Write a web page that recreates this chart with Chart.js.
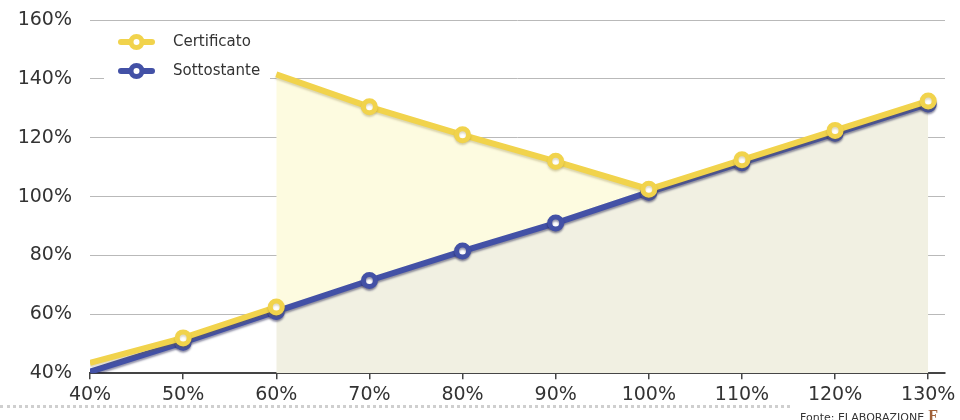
<!DOCTYPE html>
<html>
<head>
<meta charset="utf-8">
<script src="https://cdn.jsdelivr.net/npm/chart.js@4.4.1/dist/chart.umd.min.js"></script>
<style>
  html, body { margin: 0; padding: 0; background: #fff; overflow: hidden; }
  #wrap { position: relative; width: 960px; height: 420px; }
  #grafico { position: absolute; left: 0; top: 0; }
  .puntini { position: absolute; left: 0; top: 405px; width: 790px; border-top: 3px dotted #cfcfcf; }
  .fonte { position: absolute; left: 800px; top: 407px; font: 11px "DejaVu Sans", sans-serif; color: #333; white-space: nowrap; }
  .fonte b { font: bold 16px "Liberation Serif", serif; color: #a0623a; margin-left: 4px; }
</style>
</head>
<body>
<div id="wrap">
  <canvas id="grafico" width="960" height="420"></canvas>
  <div class="puntini"></div>
  <div class="fonte">Fonte: ELABORAZIONE<b>F</b></div>
</div>
<script>
// Dati (livello del sottostante in % del valore iniziale)
const livelli = [40, 50, 60, 70, 80, 90, 100, 110, 120, 130];
const sottostante = [40.5, 50.5, 61, 71.5, 81.5, 91, 101.5, 111.5, 121.5, 131.5];
// Certificato: tratto sotto la barriera (40-60%) e tratto sopra (60-130%)
const livelliSotto = [40, 50, 60];
const certificatoSotto = [43.5, 52, 62.5];
const livelliSopra = [60, 70, 80, 90, 100, 110, 120, 130];
const certificatoSopra = [141.5, 130.5, 121, 112, 102.5, 112.5, 122.5, 132.5];
const tickX = [40, 50, 60, 70, 80, 90, 100, 110, 120, 130];
const tickY = [40, 60, 80, 100, 120, 140, 160];

const GIALLO = '#f1d34c';
const BLU = '#4351a6';
const FONT = '"DejaVu Sans", sans-serif';

// punti del certificato, con un buco (null) per spezzare la linea a 60%
const datiCert = livelliSotto.map((x, i) => ({ x: x, y: certificatoSotto[i] }))
  .concat([{ x: livelliSopra[0], y: null }])
  .concat(livelliSopra.map((x, i) => ({ x: x, y: certificatoSopra[i] })));
const raggiCert = datiCert.map((p, i) => (i === 0 || i === livelliSotto.length + 1) ? 0 : 6);

const datiSott = livelli.map((x, i) => ({ x: x, y: sottostante[i] }));
const raggiSott = livelli.map((x, i) => i === 0 ? 0 : 6);

const inizioArea = livelli.indexOf(livelliSopra[0]);
const areaSott = livelli.slice(inizioArea).map((x, i) => ({ x: x, y: sottostante[inizioArea + i] }));
const areaCert = livelliSopra.map((x, i) => ({ x: x, y: certificatoSopra[i] }));

// ombra leggera sotto le linee
const ombraLinee = {
  id: 'ombraLinee',
  beforeDatasetDraw(chart, args) {
    if (args.index > 1) return;
    const ctx = chart.ctx;
    ctx.save();
    ctx.shadowColor = args.index === 1 ? 'rgba(20,20,70,0.45)' : 'rgba(120,100,20,0.25)';
    ctx.shadowOffsetY = 2;
    ctx.shadowBlur = 2;
  },
  afterDatasetDraw(chart, args) {
    if (args.index > 1) return;
    chart.ctx.restore();
  }
};

// legenda dentro l'area del grafico, in alto a sinistra
const legendaInterna = {
  id: 'legendaInterna',
  afterDraw(chart) {
    const ctx = chart.ctx;
    const voci = [
      { testo: 'Certificato', colore: GIALLO, y: 42 },
      { testo: 'Sottostante', colore: BLU, y: 71 }
    ];
    ctx.save();
    ctx.fillStyle = '#fff';
    ctx.fillRect(104, 28, 166, 58);
    voci.forEach(v => {
      ctx.strokeStyle = v.colore;
      ctx.lineWidth = 6;
      ctx.lineCap = 'round';
      ctx.beginPath();
      ctx.moveTo(121, v.y);
      ctx.lineTo(152, v.y);
      ctx.stroke();
      ctx.lineWidth = 5;
      ctx.fillStyle = '#fff';
      ctx.beginPath();
      ctx.arc(136.5, v.y, 5.5, 0, Math.PI * 2);
      ctx.fill();
      ctx.stroke();
      ctx.fillStyle = '#333';
      ctx.font = '15px ' + FONT;
      ctx.textBaseline = 'middle';
      ctx.fillText(v.testo, 173, v.y);
    });
    ctx.restore();
  }
};

new Chart(document.getElementById('grafico'), {
  type: 'line',
  data: {
    datasets: [
      {
        label: 'Certificato',
        data: datiCert,
        borderColor: GIALLO,
        borderWidth: 6,
        pointRadius: raggiCert,
        pointBackgroundColor: '#fff',
        pointBorderColor: GIALLO,
        pointBorderWidth: 5,
        spanGaps: false,
        fill: false
      },
      {
        label: 'Sottostante',
        data: datiSott,
        borderColor: BLU,
        borderWidth: 6,
        pointRadius: raggiSott,
        pointBackgroundColor: '#fff',
        pointBorderColor: BLU,
        pointBorderWidth: 5,
        fill: false
      },
      {
        label: 'areaCert',
        data: areaCert,
        borderWidth: 0,
        pointRadius: 0,
        backgroundColor: '#fdfbe0',
        fill: '+1'
      },
      {
        label: 'areaSott',
        data: areaSott,
        borderWidth: 0,
        pointRadius: 0,
        backgroundColor: '#f1f0e2',
        fill: 'origin'
      }
    ]
  },
  options: {
    responsive: false,
    animation: false,
    layout: { autoPadding: false, padding: { top: 20, right: 15, bottom: 10, left: 0 } },
    plugins: {
      legend: { display: false },
      tooltip: { enabled: false }
    },
    scales: {
      x: {
        type: 'linear',
        min: 40,
        max: 131.8,
        afterBuildTicks: scale => { scale.ticks = tickX.map(v => ({ value: v })); },
        grid: { drawOnChartArea: false, drawTicks: true, tickLength: 6, color: '#444', lineWidth: 1.5 },
        border: { display: true, color: '#444', width: 2 },
        ticks: {
          padding: 4,
          color: '#333',
          font: { family: FONT, size: 19 },
          callback: v => v + '%'
        }
      },
      y: {
        min: 40,
        max: 160,
        afterBuildTicks: scale => { scale.ticks = tickY.map(v => ({ value: v })); },
        afterFit: scale => {
          scale.width = 90;
          scale.paddingTop = 0;
          scale.paddingBottom = 0;
        },
        grid: { drawTicks: false, color: '#b9b9b9', lineWidth: 1 },
        border: { display: false },
        ticks: {
          padding: 18,
          color: '#333',
          font: { family: FONT, size: 19 },
          callback: v => v + '%'
        }
      }
    }
  },
  plugins: [ombraLinee, legendaInterna]
});
</script>
</body>
</html>
